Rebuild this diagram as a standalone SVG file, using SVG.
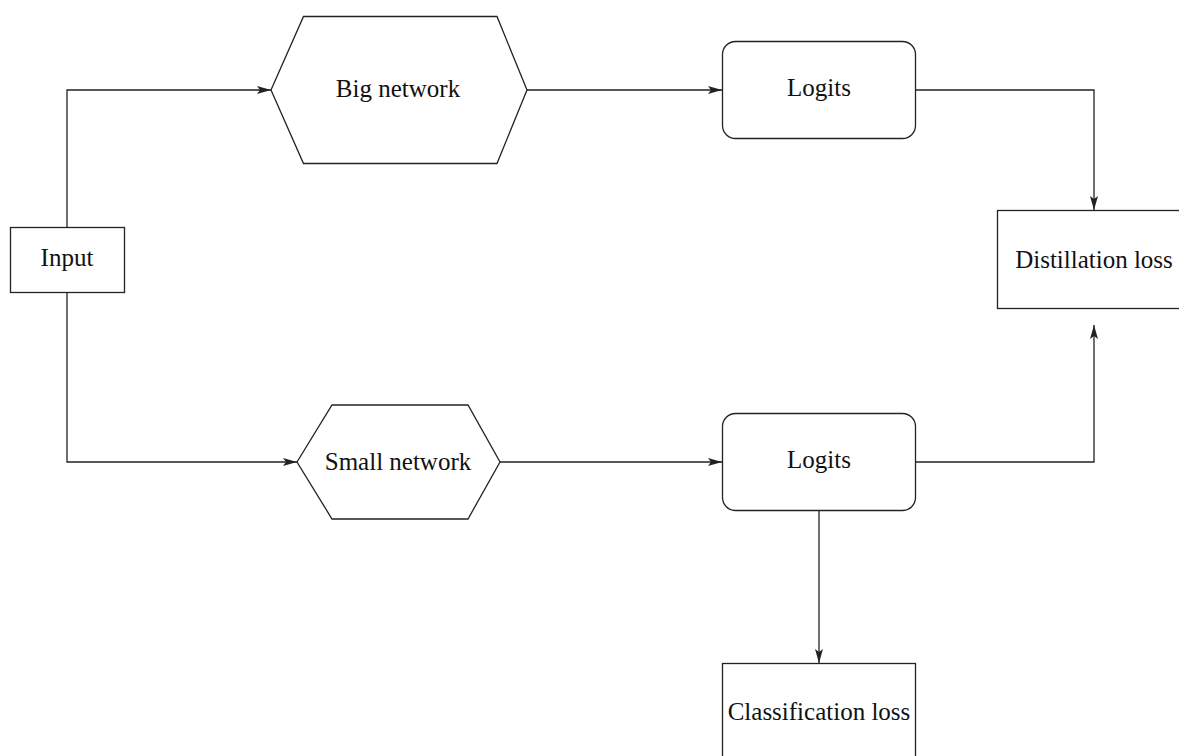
<svg xmlns="http://www.w3.org/2000/svg" width="1179" height="756" viewBox="0 0 1179 756">
<style>
.n{fill:#fff;stroke:#222;stroke-width:1.3}
.t{font-family:"Liberation Serif","DejaVu Serif",serif;font-size:25px;fill:#111;text-anchor:middle}
.c{fill:none;stroke:#222;stroke-width:1.3}
</style>
<defs>
<marker id="ah" viewBox="0 0 14 8" refX="14" refY="4" markerWidth="14" markerHeight="8" markerUnits="userSpaceOnUse" orient="auto">
<path d="M0,0 L14,4 L0,8 L3,4 Z" fill="#222"/>
</marker>
</defs>
<rect width="1179" height="756" fill="#fff"/>
<g id="connectors">
<path class="c" d="M67,227 V90 H271" marker-end="url(#ah)"/>
<path class="c" d="M67,292 V462 H297" marker-end="url(#ah)"/>
<path class="c" d="M527,90 H722" marker-end="url(#ah)"/>
<path class="c" d="M500,462 H722" marker-end="url(#ah)"/>
<path class="c" d="M916,90 H1094 V210" marker-end="url(#ah)"/>
<path class="c" d="M916,462 H1094 V325" marker-end="url(#ah)"/>
<path class="c" d="M819,511 V663" marker-end="url(#ah)"/>
</g>
<g id="input">
<rect class="n" x="10.5" y="227.5" width="114" height="65"/>
<text class="t" x="67" y="266">Input</text>
</g>
<g id="big-network">
<polygon class="n" points="271,90 303.5,16.5 497,16.5 527,90 497,163.5 303.5,163.5"/>
<text class="t" x="398" y="97">Big network</text>
</g>
<g id="small-network">
<polygon class="n" points="297,462 332,405 468,405 500,462 468,519 332,519"/>
<text class="t" x="398" y="470">Small network</text>
</g>
<g id="logits-big">
<rect class="n" x="722.5" y="41.5" width="193" height="97" rx="13" ry="13"/>
<text class="t" x="819" y="96">Logits</text>
</g>
<g id="logits-small">
<rect class="n" x="722.5" y="413.5" width="193" height="97" rx="13" ry="13"/>
<text class="t" x="819" y="468">Logits</text>
</g>
<g id="distillation-loss">
<rect class="n" x="997.5" y="210.5" width="194" height="98"/>
<text class="t" x="1094" y="268">Distillation loss</text>
</g>
<g id="classification-loss">
<rect class="n" x="722.5" y="663.5" width="193" height="98"/>
<text class="t" x="819" y="720">Classification loss</text>
</g>
</svg>
